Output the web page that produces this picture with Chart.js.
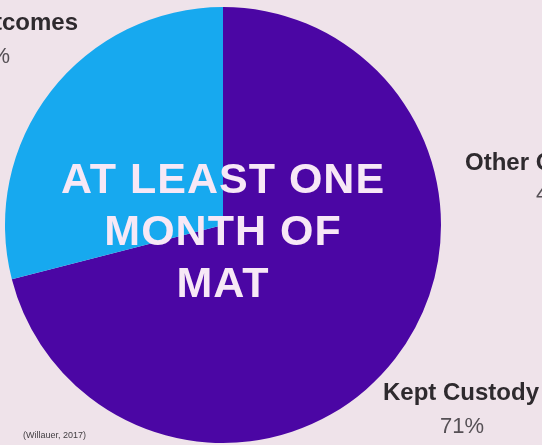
<!DOCTYPE html>
<html>
<head>
<meta charset="utf-8">
<script src="https://cdn.jsdelivr.net/npm/chart.js@4"></script>
<style>
  html, body { margin: 0; padding: 0; background: #efe3ea; }
  #wrap { width: 542px; height: 445px; position: relative; }
</style>
</head>
<body>
<div id="wrap"><canvas id="canvas_pie" width="542" height="445"></canvas></div>
<script>
// data
var labels = ['Kept Custody', 'Other Outcomes'];
var shares = [71, 29];
var colors = ['#4b06a4', '#17a9ef'];
var centerLines = ['AT LEAST ONE', 'MONTH OF', 'MAT'];
var sideLabel = ['Other Outcomes', '4'];   // label of the next chart, cut off at the edge
var source = '(Willauer, 2017)';

// draw the texts on top of the pie
var textPlugin = {
  id: 'texts',
  afterDraw: function(chart) {
    var ctx = chart.ctx;
    var arc = chart.getDatasetMeta(0).data[0];
    var cx = arc.x;
    ctx.save();

    // big white title in the middle
    ctx.fillStyle = '#f7e8f6';
    ctx.font = 'bold 43px "Liberation Sans", Arial, sans-serif';
    ctx.letterSpacing = '1px';
    ctx.textAlign = 'center';
    ctx.textBaseline = 'alphabetic';
    for (var i = 0; i < centerLines.length; i++) {
      ctx.fillText(centerLines[i], cx, 193 + i * 52);
    }
    ctx.letterSpacing = '0px';

    var bold = 'bold 24px "Liberation Sans", Arial, sans-serif';
    var reg = '22px "Liberation Sans", Arial, sans-serif';

    // slice labels
    ctx.fillStyle = '#2e2a2e';
    ctx.font = bold;
    ctx.textAlign = 'center';
    ctx.fillText(labels[0], 461, 400);
    ctx.fillStyle = '#555055';
    ctx.font = reg;
    ctx.fillText(shares[0] + '%', 462, 433);

    ctx.fillStyle = '#2e2a2e';
    ctx.font = bold;
    ctx.textAlign = 'right';
    ctx.fillText(labels[1], 78, 30);
    ctx.fillStyle = '#555055';
    ctx.font = reg;
    ctx.fillText(shares[1] + '%', 10, 63);

    // neighbour label cut at the right edge
    ctx.fillStyle = '#2e2a2e';
    ctx.font = bold;
    ctx.textAlign = 'left';
    ctx.fillText(sideLabel[0], 465, 170);
    ctx.fillStyle = '#555055';
    ctx.font = reg;
    ctx.fillText(sideLabel[1], 536, 201);

    // source
    ctx.fillStyle = '#444044';
    ctx.font = '9px "Liberation Sans", Arial, sans-serif';
    ctx.textAlign = 'left';
    ctx.fillText(source, 23, 438);

    ctx.restore();
  }
};

var ctxP = document.getElementById('canvas_pie').getContext('2d');
var myPieChart = new Chart(ctxP, {
  type: 'pie',
  data: {
    labels: labels,
    datasets: [{
      data: shares,
      backgroundColor: colors,
      borderWidth: 0
    }]
  },
  options: {
    responsive: false,
    animation: false,
    layout: { padding: { left: 5, right: 101, top: 7, bottom: 2 } },
    plugins: {
      legend: { display: false },
      tooltip: { enabled: false }
    }
  },
  plugins: [textPlugin]
});
</script>
</body>
</html>
